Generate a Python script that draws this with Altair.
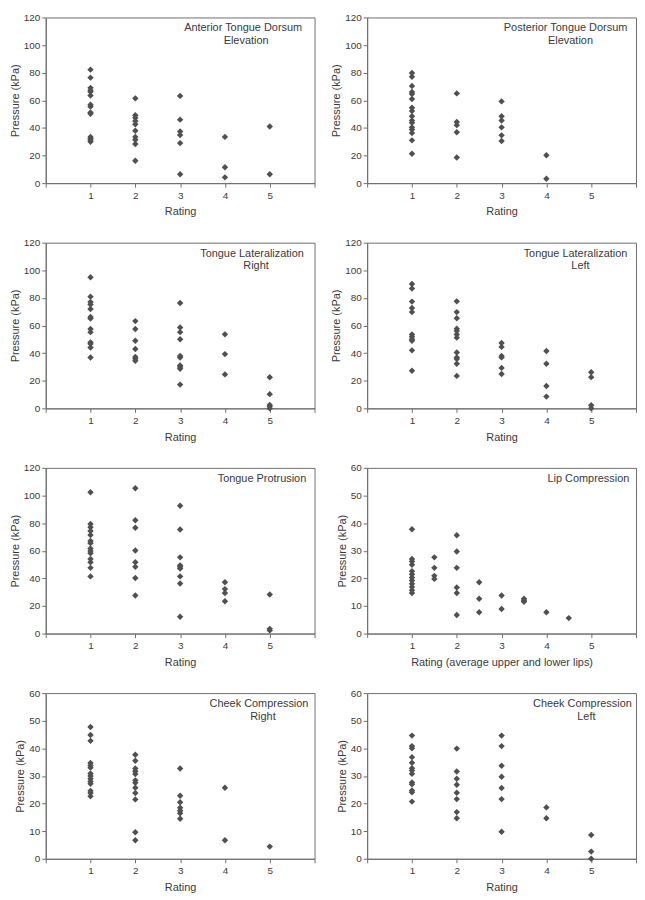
import altair as alt
import pandas as pd

# ---- data (kPa) ----
# Anterior Tongue Dorsum Elevation
ant_1 = [82.2, 76.4, 69.0, 67.2, 66.2, 63.5, 56.8, 55.4, 51.2, 50.3, 33.5, 32.3, 31.2, 30.0]
ant_2 = [61.4, 49.2, 47.3, 45.0, 42.7, 38.0, 33.5, 31.4, 28.4, 16.2]
ant_3 = [63.2, 46.0, 37.4, 34.8, 29.0, 6.5]
ant_4 = [33.5, 11.5, 4.2]
ant_5 = [41.0, 6.5]

# Posterior Tongue Dorsum Elevation
post_1 = [79.8, 77.1, 70.4, 66.0, 64.5, 61.0, 54.6, 52.3, 48.4, 45.4, 43.8, 40.4, 38.8, 36.3, 31.0, 21.3]
post_2 = [65.0, 44.3, 42.0, 36.9, 18.6]
post_3 = [59.2, 48.4, 45.4, 40.4, 34.6, 30.5]
post_4 = [20.2, 3.2]
post_5 = []

# Tongue Lateralization Right
latr_1 = [94.9, 80.9, 77.0, 75.2, 72.0, 66.2, 65.0, 57.5, 55.2, 47.8, 46.7, 44.1, 36.8]
latr_2 = [63.2, 57.5, 49.0, 43.0, 37.2, 36.0, 34.5]
latr_3 = [76.3, 58.6, 55.2, 50.1, 37.9, 36.8, 31.0, 29.9, 28.7, 17.2]
latr_4 = [53.6, 39.3, 24.6]
latr_5 = [22.5, 10.3, 2.5, 1.6, 0.0]

# Tongue Lateralization Left
latl_1 = [90.0, 86.8, 77.3, 72.7, 69.7, 53.5, 51.9, 50.1, 48.9, 42.0, 27.2]
latl_2 = [77.5, 69.7, 65.3, 57.7, 56.1, 53.5, 51.2, 40.4, 36.9, 35.8, 32.3, 23.5]
latl_3 = [47.3, 44.5, 38.0, 36.9, 29.3, 24.9]
latl_4 = [41.5, 32.3, 16.2, 8.5]
latl_5 = [26.1, 22.6, 2.3, 0.0]

# Tongue Protrusion
prot_1 = [102.3, 79.3, 77.0, 74.3, 71.3, 67.1, 65.5, 61.6, 59.8, 58.2, 54.0, 51.7, 47.6, 41.4]
prot_2 = [105.3, 82.1, 76.6, 60.2, 51.7, 48.3, 40.2, 27.6]
prot_3 = [92.6, 75.4, 55.2, 49.4, 48.3, 47.1, 41.4, 36.3, 12.2]
prot_4 = [37.2, 32.2, 29.4, 23.4]
prot_5 = [28.3, 3.4, 2.3]

# Lip Compression (ratings are averages of upper and lower lips)
lip_rating = [1, 1, 1, 1, 1, 1, 1, 1, 1, 1, 1, 1,
              1.5, 1.5, 1.5, 1.5,
              2, 2, 2, 2, 2, 2,
              2.5, 2.5, 2.5,
              3, 3,
              3.5, 3.5, 3.5,
              4,
              4.5]
lip_kpa = [37.8, 27.0, 26.1, 24.9, 22.6, 21.5, 20.3, 19.2, 18.0, 16.9, 15.7, 14.7,
           27.6, 23.8, 20.9, 19.8,
           35.6, 29.7, 23.8, 16.7, 14.7, 6.7,
           18.6, 12.6, 7.7,
           13.8, 8.9,
           12.6, 12.1, 11.5,
           7.7,
           5.6]

# Cheek Compression Right
chr_1 = [47.7, 44.8, 42.7, 34.7, 33.8, 33.0, 30.9, 30.0, 29.0, 28.0, 27.2, 24.6, 23.8, 22.6]
chr_2 = [37.7, 35.5, 32.7, 31.7, 30.7, 28.4, 27.5, 25.7, 23.8, 21.5, 9.6, 6.7]
chr_3 = [32.7, 22.8, 20.5, 18.5, 17.4, 16.5, 14.5]
chr_4 = [25.7, 6.7]
chr_5 = [4.4]

# Cheek Compression Left
chl_1 = [44.6, 40.8, 40.0, 36.8, 34.8, 32.8, 32.0, 30.8, 27.6, 27.0, 24.7, 24.1, 20.7]
chl_2 = [39.9, 31.6, 29.0, 26.8, 23.9, 21.6, 16.9, 14.7]
chl_3 = [44.6, 40.8, 33.7, 29.7, 25.6, 21.6, 9.8]
chl_4 = [18.6, 14.7]
chl_5 = [8.6, 2.6, 0.0]

x_ticks = [0, 1, 2, 3, 4, 5, 6]

FONT = "Liberation Sans"
MARK = "#505050"
TXT = "#3a3a3a"
W, H = 271, 167


def groups_to_df(groups):
    rows = []
    for rating, vals in groups:
        for v in vals:
            rows.append({"rating": rating, "kpa": v})
    return pd.DataFrame(rows, columns=["rating", "kpa"])


def label(text, tx, ty):
    return alt.Chart(pd.DataFrame({"t": [0]})).mark_text(
        align="center", baseline="middle", font=FONT, fontSize=11, color=TXT
    ).encode(x=alt.value(tx), y=alt.value(ty), text=alt.value(text))


def panel(df, lines, ymax, ystep, xtitle, tx, dx2=0):
    x = alt.X("rating:Q",
              scale=alt.Scale(domain=[0, 6], nice=False, zero=False),
              axis=alt.Axis(values=x_ticks, title=xtitle,
                            labelExpr="datum.value == 0 || datum.value == 6 ? '' : datum.label"))
    y = alt.Y("kpa:Q",
              scale=alt.Scale(domain=[0, ymax], nice=False),
              axis=alt.Axis(values=list(range(0, ymax + 1, ystep)), title="Pressure (kPa)"))
    pts = alt.Chart(df).mark_point(shape="diamond", filled=True, size=42,
                                   color=MARK, opacity=1, clip=False).encode(x=x, y=y)
    layers = [pts, label(lines[0], tx, 11)]
    if len(lines) > 1:
        layers.append(label(lines[1], tx + dx2, 24))
    return alt.layer(*layers).properties(width=W, height=H)


p1 = panel(groups_to_df([(1, ant_1), (2, ant_2), (3, ant_3), (4, ant_4), (5, ant_5)]),
           ["Anterior Tongue Dorsum", "Elevation"], 120, 20, "Rating", 199, 3)
p2 = panel(groups_to_df([(1, post_1), (2, post_2), (3, post_3), (4, post_4), (5, post_5)]),
           ["Posterior Tongue Dorsum", "Elevation"], 120, 20, "Rating", 200, 5)
p3 = panel(groups_to_df([(1, latr_1), (2, latr_2), (3, latr_3), (4, latr_4), (5, latr_5)]),
           ["Tongue Lateralization", "Right"], 120, 20, "Rating", 208, 4)
p4 = panel(groups_to_df([(1, latl_1), (2, latl_2), (3, latl_3), (4, latl_4), (5, latl_5)]),
           ["Tongue Lateralization", "Left"], 120, 20, "Rating", 210, 5)
p5 = panel(groups_to_df([(1, prot_1), (2, prot_2), (3, prot_3), (4, prot_4), (5, prot_5)]),
           ["Tongue Protrusion"], 120, 20, "Rating", 218)
p6 = panel(pd.DataFrame({"rating": lip_rating, "kpa": lip_kpa}),
           ["Lip Compression"], 60, 10, "Rating (average upper and lower lips)", 223)
p7 = panel(groups_to_df([(1, chr_1), (2, chr_2), (3, chr_3), (4, chr_4), (5, chr_5)]),
           ["Cheek Compression", "Right"], 60, 10, "Rating", 215, 4)
p8 = panel(groups_to_df([(1, chl_1), (2, chl_2), (3, chl_3), (4, chl_4), (5, chl_5)]),
           ["Cheek Compression", "Left"], 60, 10, "Rating", 217, 4)

chart = alt.concat(p1, p2, p3, p4, p5, p6, p7, p8, columns=2,
                   spacing={"row": 60, "column": 53}, bounds="flush").properties(
    padding={"left": 0, "top": 0, "right": 0, "bottom": 0}
).configure(
    background="white"
).configure_view(
    stroke="#6e6e6e", strokeWidth=1
).configure_axis(
    grid=False,
    labelFont=FONT, labelFontSize=10, labelColor=TXT,
    titleFont=FONT, titleFontSize=11, titleFontWeight="normal", titleColor=TXT,
    domainColor="#6e6e6e", tickColor="#6e6e6e", tickSize=4, domainWidth=1, tickWidth=1,
).configure_axisX(
    labelPadding=3, titlePadding=6
).configure_axisY(
    labelPadding=2, titlePadding=3
)

chart.save("out.html", embed_options={"renderer": "svg", "actions": False})
